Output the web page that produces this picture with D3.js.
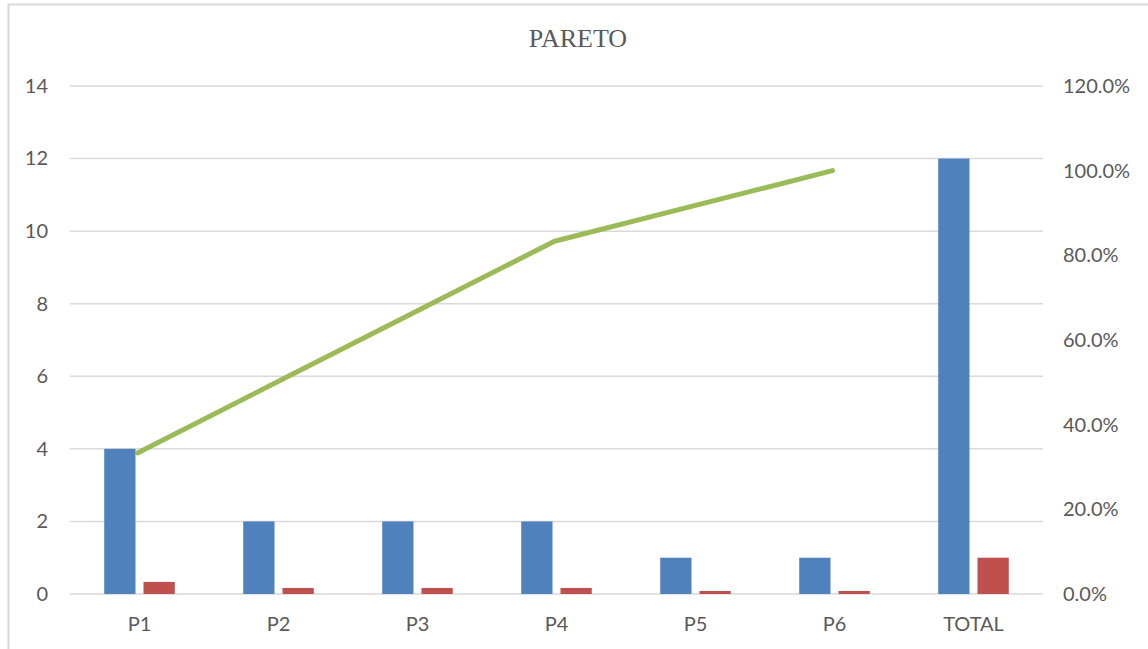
<!DOCTYPE html>
<html>
<head>
<meta charset="utf-8">
<script src="https://cdn.jsdelivr.net/npm/d3@7"></script>
<style>
  body { margin: 0; background: #fff; }
  text { font-family: Lato, "Liberation Sans", sans-serif; }
</style>
</head>
<body>
<div id="chart"></div>
<script>
// chart data
var categories = ["P1", "P2", "P3", "P4", "P5", "P6", "TOTAL"];
var counts = [4, 2, 2, 2, 1, 1, 12];
var shares = [0.3333, 0.1667, 0.1667, 0.1667, 0.0833, 0.0833, 1];
var lineCats = ["P1", "P2", "P3", "P4", "P5", "P6"];
var cumulative = [0.3333, 0.5, 0.6667, 0.8333, 0.9167, 1.0];
var leftTicks = [0, 2, 4, 6, 8, 10, 12, 14];
var rightTicks = [0, 0.2, 0.4, 0.6, 0.8, 1.0, 1.2];

var W = 1148, H = 649;
var margin = { top: 86, right: 105, bottom: 55, left: 70 };
var width = W - margin.left - margin.right;
var height = H - margin.top - margin.bottom;

var svg = d3.select("#chart")
  .append("svg")
  .attr("width", W)
  .attr("height", H);

// outer frame (only top and left edges are inside the picture)
svg.append("rect")
  .attr("x", 8.5).attr("y", 4.5)
  .attr("width", W + 20).attr("height", H + 20)
  .attr("fill", "none")
  .attr("stroke", "#d9d9d9")
  .attr("stroke-width", 2);

var g = svg.append("g")
  .attr("transform", "translate(" + margin.left + "," + margin.top + ")");

var x = d3.scaleBand().domain(categories).range([0, width]);
var y = d3.scaleLinear().domain([0, 14]).range([height, 0]);
var y2 = d3.scaleLinear().domain([0, 1.2]).range([height, 0]);

// gridlines
g.selectAll(".grid")
  .data(leftTicks)
  .enter()
  .append("line")
  .attr("x1", 0).attr("x2", width)
  .attr("y1", function(d) { return y(d); })
  .attr("y2", function(d) { return y(d); })
  .attr("stroke", "#d9d9d9")
  .attr("stroke-width", 1.5);

var barW = x.bandwidth() * 0.225;
var gap = 8;

g.selectAll(".count")
  .data(counts)
  .enter()
  .append("rect")
  .attr("x", function(d, i) { return x(categories[i]) + x.bandwidth() / 2 - gap / 2 - barW; })
  .attr("y", function(d) { return y(d); })
  .attr("width", barW)
  .attr("height", function(d) { return height - y(d); })
  .attr("fill", "#4f81bd");

g.selectAll(".share")
  .data(shares)
  .enter()
  .append("rect")
  .attr("x", function(d, i) { return x(categories[i]) + x.bandwidth() / 2 + gap / 2; })
  .attr("y", function(d) { return y(d); })
  .attr("width", barW)
  .attr("height", function(d) { return height - y(d); })
  .attr("fill", "#c0504d");

var line = d3.line()
  .x(function(d, i) { return x(lineCats[i]) + x.bandwidth() / 2 - 2; })
  .y(function(d) { return y2(d); });

g.append("path")
  .datum(cumulative)
  .attr("d", line)
  .attr("fill", "none")
  .attr("stroke", "#9bbb59")
  .attr("stroke-width", 5)
  .attr("stroke-linecap", "round")
  .attr("stroke-linejoin", "round");

// axes
var leftAxis = d3.axisLeft(y).tickValues(leftTicks).tickSize(0).tickPadding(22);
var rightAxis = d3.axisRight(y2).tickValues(rightTicks).tickSize(0).tickPadding(20)
  .tickFormat(function(d) { return (d * 100).toFixed(1) + "%"; });
var bottomAxis = d3.axisBottom(x).tickSize(0).tickPadding(23);

var la = g.append("g").call(leftAxis);
var ra = g.append("g").attr("transform", "translate(" + width + ",0)").call(rightAxis);
var ba = g.append("g").attr("transform", "translate(0," + height + ")").call(bottomAxis);

[la, ra, ba].forEach(function(a) {
  a.select(".domain").remove();
  a.selectAll("text")
    .attr("fill", "#595959")
    .style("font-size", "20px")
    .style("font-family", "Lato, 'Liberation Sans', sans-serif");
});

svg.append("text")
  .attr("x", 578)
  .attr("y", 47)
  .attr("text-anchor", "middle")
  .attr("fill", "#595959")
  .style("font-family", "'Liberation Serif', 'DejaVu Serif', serif")
  .style("font-size", "26px")
  .text("PARETO");
</script>
</body>
</html>
